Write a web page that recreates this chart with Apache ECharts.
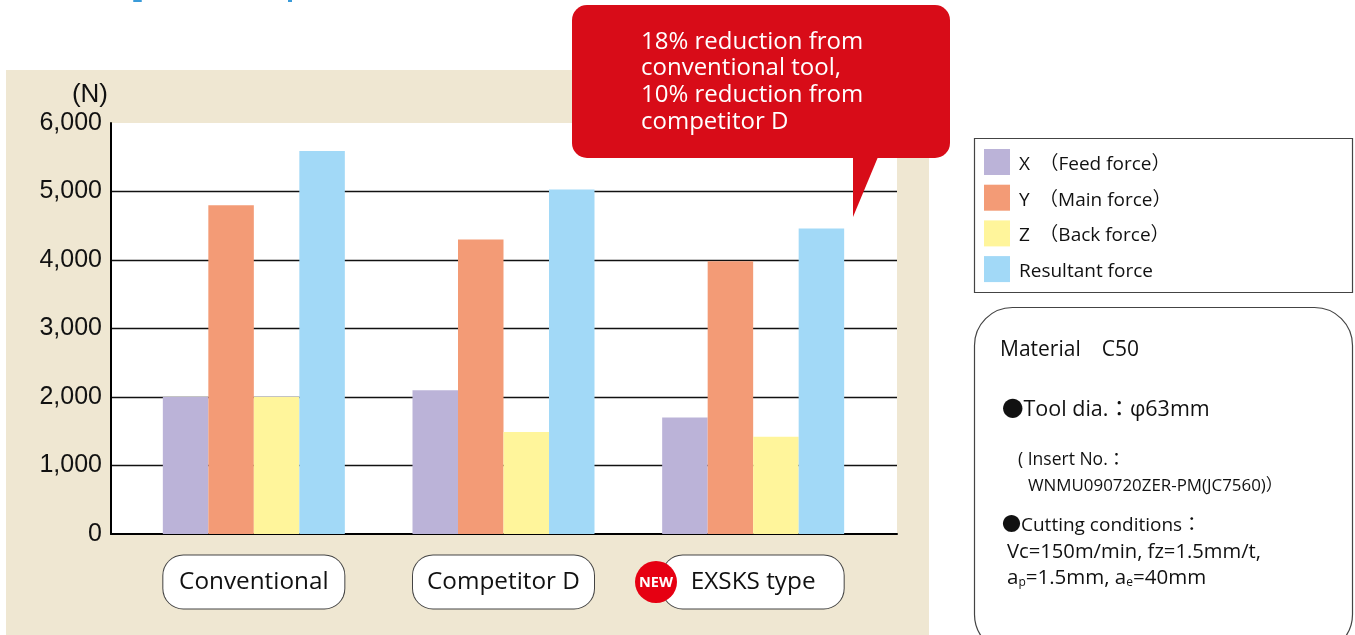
<!DOCTYPE html>
<html><head><meta charset="utf-8">
<style>html,body{margin:0;padding:0;background:#fff}#c{width:1355px;height:635px}</style>
<script src="https://cdn.jsdelivr.net/npm/echarts@6/dist/echarts.min.js"></script>
</head><body><div id="c"></div>
<script>
const categories = ['Conventional', 'Competitor D', 'EXSKS type'];
const seriesNames = ['X\u3000（Feed force）', 'Y\u3000（Main force）', 'Z\u3000（Back force）', 'Resultant force'];
const xForce = [2000, 2100, 1700];
const yForce = [4800, 4300, 3980];
const zForce = [2000, 1490, 1420];
const resultant = [5590, 5030, 4460];
const colors = ['#BBB3D8', '#F39B76', '#FFF59B', '#A2D9F7'];
const yTicks = {min: 0, max: 6000, interval: 1000};
const calloutLines = ['18% reduction from', 'conventional tool,', '10% reduction from', 'competitor D'];

const UI = '"Open Sans","Noto Sans CJK JP",sans-serif';
const chart = echarts.init(document.getElementById('c'), null, {renderer: 'canvas'});
const values = [xForce, yForce, zForce, resultant];

const txt = (x, y, text, size, extra) => ({
  type: 'text', x, y, z: 20,
  style: Object.assign({text, fill: '#111', font: size + 'px ' + UI, textVerticalAlign: 'middle'}, extra || {})
});

chart.setOption({
  animation: false,
  backgroundColor: '#fff',
  textStyle: {fontFamily: UI},
  grid: [
    {left: 111, top: 123, width: 786, height: 411, show: true, backgroundColor: '#fff', borderWidth: 0},
    {left: 129, top: 123, width: 749, height: 411, show: false}
  ],
  xAxis: [
    {gridIndex: 0, type: 'category', data: [''], axisTick: {show: false}, axisLabel: {show: false},
     axisLine: {lineStyle: {color: '#000', width: 2}}, splitLine: {show: false}},
    {gridIndex: 1, type: 'category', data: categories, axisTick: {show: false},
     axisLine: {show: false}, splitLine: {show: false},
     axisLabel: {
       interval: 0, margin: 18,
       formatter: v => '{p|' + v + '}',
       rich: {p: {width: 181, height: 53, lineHeight: 60, align: 'center', verticalAlign: 'middle',
         backgroundColor: '#fff', borderColor: '#444', borderWidth: 1, borderRadius: 20,
         color: '#111', fontSize: 24.3, fontFamily: UI}}
     }}
  ],
  yAxis: [
    {gridIndex: 0, type: 'value', min: yTicks.min, max: yTicks.max, interval: yTicks.interval,
     name: '(N)', nameLocation: 'end', nameGap: 15,
     nameTextStyle: {color: '#111', fontSize: 26, fontFamily: '"Liberation Sans",Arial,sans-serif', align: 'right', padding: [0, 3, 0, 0]},
     axisLine: {show: true, lineStyle: {color: '#000', width: 2}},
     axisTick: {show: false},
     axisLabel: {color: '#111', fontSize: 25, margin: 9, fontFamily: '"Liberation Sans",Arial,sans-serif',
       formatter: v => v.toLocaleString('en-US')},
     splitLine: {show: true, showMinLine: false, showMaxLine: false, lineStyle: {color: '#111', width: 1.3}}},
    {gridIndex: 1, type: 'value', min: yTicks.min, max: yTicks.max, interval: yTicks.interval, show: false, splitLine: {show: false}}
  ],
  legend: {
    orient: 'vertical', left: 984, top: 149, padding: 0,
    itemWidth: 26, itemHeight: 26, itemGap: 9.7, icon: 'rect',
    selectedMode: false, data: seriesNames,
    formatter: n => '{t|' + n + '}',
    textStyle: {rich: {t: {color: '#111', fontSize: 19, fontFamily: UI, padding: [5, 0, 0, 4]}}}
  },
  series: seriesNames.map((name, i) => ({
    name, type: 'bar', xAxisIndex: 1, yAxisIndex: 1, data: values[i],
    barWidth: 45.5, barGap: 0, itemStyle: {color: colors[i]}
  })),
  graphic: {elements: [
    {type: 'rect', z: -100, shape: {x: 6, y: 70, width: 923, height: 565}, style: {fill: '#EFE7D2'}},
    {type: 'rect', z: 5, shape: {x: 133, y: 0, width: 9, height: 2, r: 1}, style: {fill: '#3A9BD9'}},
    {type: 'rect', z: 5, shape: {x: 288, y: 0, width: 4, height: 2}, style: {fill: '#3A9BD9'}},
    {type: 'rect', z: 5, shape: {x: 974.5, y: 138.5, width: 378, height: 154}, style: {fill: 'none', stroke: '#444', lineWidth: 1.2}},
    {type: 'rect', z: 5, shape: {x: 974.5, y: 307.5, width: 378, height: 345, r: 38}, style: {fill: '#fff', stroke: '#444', lineWidth: 1.2}},
    {type: 'rect', z: 30, shape: {x: 572, y: 5, width: 378, height: 153, r: 15}, style: {fill: '#D80C18'}},
    {type: 'polygon', z: 30, shape: {points: [[853, 157], [878, 157], [853, 217]]}, style: {fill: '#D80C18'}},
    ...calloutLines.map((t, i) => ({type: 'text', z: 31, x: 641, y: 42 + i * 26.6,
      style: {text: t, fill: '#fff', font: '24px ' + UI, textVerticalAlign: 'middle'}})),
    {type: 'circle', z: 25, shape: {cx: 656, cy: 582, r: 21}, style: {fill: '#E60012'}},
    {type: 'text', z: 26, x: 656, y: 583, style: {text: 'NEW', fill: '#fff', font: 'bold 14.5px ' + UI, textAlign: 'center', textVerticalAlign: 'middle'}},
    txt(1000, 350, 'Material\u3000C50', 21),
    txt(1002, 410, '●Tool dia.：φ63mm', 21.5),
    txt(1018, 460, '( Insert No.：', 17.5),
    txt(1028, 486, 'WNMU090720ZER-PM(JC7560)）', 16.9),
    txt(1002, 526, '●Cutting conditions：', 19),
    txt(1007, 552, 'Vc=150m/min, fz=1.5mm/t,', 20.2),
    {type: 'text', x: 1007, y: 578, z: 20, style: {
      text: '{t|a}{s|p}{t|=1.5mm, a}{s|e}{t|=40mm}', fill: '#111', font: '18px ' + UI, textVerticalAlign: 'middle',
      rich: {
        t: {fontSize: 20.5, fontFamily: UI, fill: '#111'},
        s: {fontSize: 12, fontFamily: UI, fill: '#111', verticalAlign: 'bottom'}
      }
    }}
  ]}
});
</script></body></html>
